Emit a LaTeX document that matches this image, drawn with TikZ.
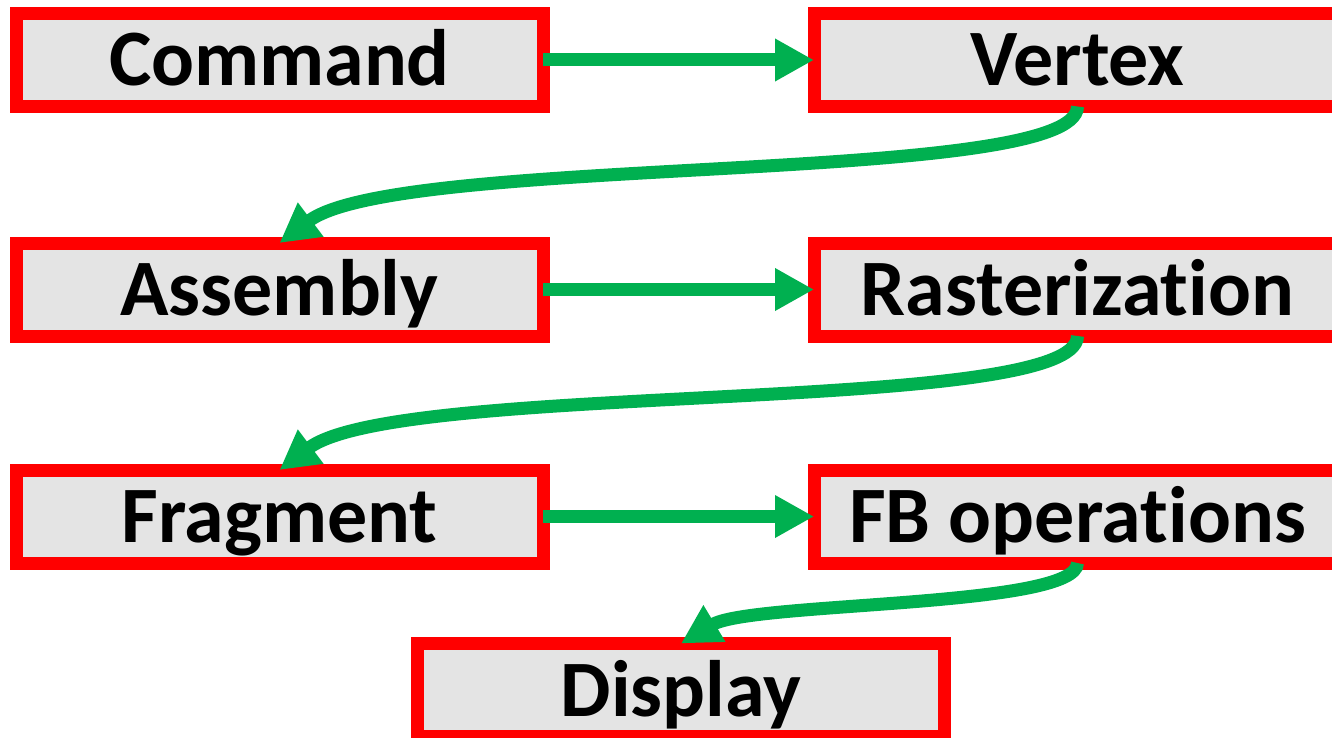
\documentclass[tikz,border=0pt]{standalone}
\usepackage{fontspec}
\setmainfont{Carlito}[Ligatures=NoCommon]
\usetikzlibrary{arrows.meta}
\definecolor{boxred}{HTML}{FF0000}
\definecolor{boxgray}{HTML}{E4E4E4}
\definecolor{flowgreen}{HTML}{00B050}
\begin{document}
\begin{tikzpicture}[x=1pt,y=-1pt,
  stage/.style={rectangle, draw=boxred, line width=13pt, fill=boxgray,
    minimum width=527pt, minimum height=93pt, outer sep=0pt, inner sep=0pt,
    font=\fontsize{80}{96}\selectfont\bfseries, text height=52pt, text depth=0pt},
  flow/.style={draw=flowgreen, line width=13pt,
    -{Triangle[length=39pt,width=40pt]}}]
\useasboundingbox (0,0) rectangle (1332,738);

% pipeline stages
\node[stage] (cmd)  at (279.5,60)    {Command};
\node[stage] (vtx)  at (1077.5,60)   {Vertex};
\node[stage] (asm)  at (279.5,289.5) {Assembly};
\node[stage] (ras)  at (1077.5,289.5){Rasterization};
\node[stage] (frag) at (279.5,516.5) {Fragment};
\node[stage] (fbo)  at (1077.5,516.5){FB operations};
\node[stage] (disp) at (681,690)     {Display};

% straight links within a row
\draw[flow] (cmd.east)  -- (vtx.west);
\draw[flow] (asm.east)  -- (ras.west);
\draw[flow] (frag.east) -- (fbo.west);

% curved links back to the next row
\draw[flow] (vtx.south) .. controls +(0,80) and +(120,-90) .. (asm.north);
\draw[flow] (ras.south) .. controls +(0,80) and +(120,-90) .. (frag.north);
\draw[flow] (fbo.south) .. controls +(0,45) and +(70,-42) .. (disp.north);
\end{tikzpicture}
\end{document}
